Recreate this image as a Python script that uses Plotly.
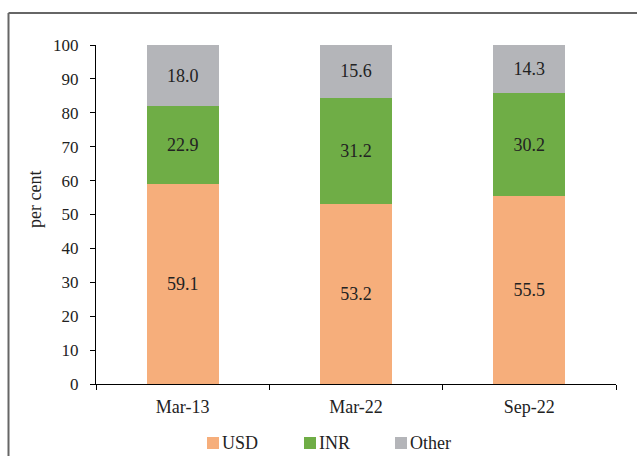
import plotly.graph_objects as go

# Currency composition of external debt (per cent)
periods = ["Mar-13", "Mar-22", "Sep-22"]
usd = [59.1, 53.2, 55.5]
inr = [22.9, 31.2, 30.2]
other = [18.0, 15.6, 14.3]

W, H = 637, 456
ML, MR, MT, MB = 96, 21, 45, 72
PW, PH = W - ML - MR, H - MT - MB

def px(x):
    return (x - ML) / PW

def py(y):
    return (H - MB - y) / PH

FONT = "Liberation Serif"
TXT = "#222222"

fig = go.Figure()
series = [("USD", usd, "#F6AE7B"), ("INR", inr, "#6FAD46"), ("Other", other, "#B4B5B9")]
for name, vals, col in series:
    fig.add_trace(go.Bar(
        name=name, x=periods, y=vals,
        marker=dict(color=col, line=dict(width=0)),
        texttemplate="%{y:.1f}", textposition="inside",
        insidetextanchor="middle", constraintext="none",
        textfont=dict(family=FONT, size=18, color=TXT),
        showlegend=False,
    ))

# outer frame (top and left edges)
frame = dict(color="#666666", width=2)
fig.add_shape(type="line", xref="paper", yref="paper",
              x0=px(8.5), x1=px(700), y0=py(13), y1=py(13), line=frame)
fig.add_shape(type="line", xref="paper", yref="paper",
              x0=px(8.5), x1=px(8.5), y0=py(13), y1=py(470), line=frame)

# legend: small swatch immediately followed by the series name
legend_x = [207, 304, 395]
for (name, _, col), lx in zip(series, legend_x):
    fig.add_shape(type="rect", xref="paper", yref="paper",
                  x0=px(lx), x1=px(lx + 12), y0=py(437), y1=py(449),
                  fillcolor=col, line=dict(width=0))
    fig.add_annotation(text=name, xref="paper", yref="paper",
                       x=px(lx + 13), y=py(443), xanchor="left", yanchor="middle",
                       showarrow=False,
                       font=dict(family=FONT, size=18, color=TXT))

fig.add_annotation(text="per cent", xref="paper", yref="paper",
                   x=px(35), y=py(200), xanchor="center", yanchor="middle",
                   textangle=-90, showarrow=False,
                   font=dict(family=FONT, size=18, color=TXT))

fig.update_layout(
    width=W, height=H,
    margin=dict(l=ML, r=MR, t=MT, b=MB),
    barmode="stack", bargap=0.585,
    paper_bgcolor="white", plot_bgcolor="white",
    font=dict(family=FONT, size=16, color=TXT),
    showlegend=False,
    xaxis=dict(showline=True, linecolor="#000", linewidth=1,
               ticks="outside", tickson="boundaries", ticklen=5,
               tickcolor="#000", showgrid=False, ticklabelstandoff=6,
               tickfont=dict(family=FONT, size=18, color=TXT)),
    yaxis=dict(range=[0, 100], dtick=10, showline=True, linecolor="#000",
               linewidth=1, ticks="outside", ticklen=5, tickcolor="#000",
               showgrid=False, zeroline=False, ticklabelstandoff=8,
               tickfont=dict(family=FONT, size=17, color=TXT)),
)

fig.write_html("out.html")
